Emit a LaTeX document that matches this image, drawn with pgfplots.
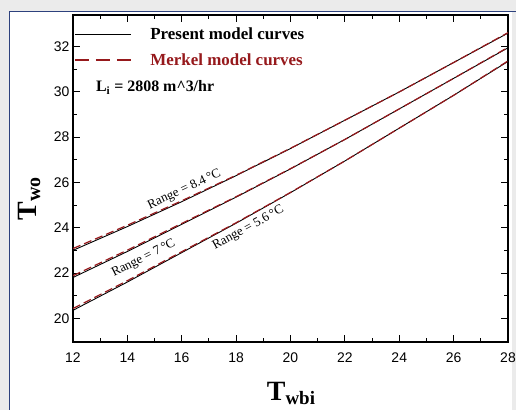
\documentclass[border=0pt]{standalone}
\usepackage{fontspec}
\setmainfont{Liberation Serif}
\newfontfamily\arial{Liberation Sans}
\usepackage{pgfplots}
\pgfplotsset{compat=1.18}
\definecolor{mred}{RGB}{150,25,28}
\definecolor{frameblue}{RGB}{45,65,125}

\pgfplotstableread{
x   pt     mt     pm     mm     pb     mb
12  23.00  23.08  21.80  21.88  20.35  20.43
14  24.05  24.11  22.95  23.01  21.60  21.66
16  25.15  25.19  24.15  24.19  22.90  22.94
18  26.30  26.32  25.35  25.37  24.20  24.22
20  27.50  27.51  26.60  26.61  25.55  25.56
22  28.75  28.75  27.90  27.90  26.95  26.95
24  30.00  30.00  29.25  29.25  28.40  28.40
26  31.30  31.30  30.60  30.60  29.85  29.85
28  32.60  32.62  31.95  31.97  31.35  31.37
}\datatable

\begin{document}
\begin{tikzpicture}
\useasboundingbox (0bp,0bp) rectangle (516bp,410bp);
\fill[black!8] (0bp,0bp) rectangle (516bp,410bp);
\fill[white] (9bp,0bp) rectangle (512bp,398bp);
\draw[frameblue, line width=1bp] (9bp,0bp) -- (9bp,398bp) -- (516bp,398bp);
\begin{axis}[
  at={(73bp,68bp)}, anchor=south west,
  scale only axis, width=435bp, height=327bp,
  xmin=12, xmax=28, ymin=18.95, ymax=33.4,
  xtick={12,14,...,28}, ytick={20,22,...,32},
  minor x tick num=1, minor y tick num=1,
  tick align=inside,
  major tick length=7bp, minor tick length=4bp,
  axis line style={line width=2.5bp},
  tick style={line width=0.9bp, black},
  ticklabel style={font=\arial\fontsize{14}{14}\selectfont},
  xticklabel style={yshift=-7bp},
  /pgf/number format/assume math mode=true,
  legend cell align=left,
  legend image code/.code={\draw[#1] (0bp,0bp) -- (56bp,0bp);},
  legend style={at={(0,1)}, anchor=north west, draw=none, fill=none,
    xshift=-2bp, yshift=-9bp, row sep=8bp,
    font=\bfseries\fontsize{17}{18}\selectfont,
    /tikz/every odd column/.append style={column sep=17bp}},
]
\addlegendimage{black, line width=0.9bp}
\addlegendentry{Present model curves}
\addlegendimage{mred, line width=1.2bp, dash pattern=on 14bp off 7bp}
\addlegendentry{\textcolor{mred}{Merkel model curves}}
\addplot[black, line width=0.9bp, forget plot] table[x=x, y=pt] {\datatable};
\addplot[mred, line width=1.2bp, dash pattern=on 8bp off 4bp, forget plot] table[x=x, y=mt] {\datatable};
\addplot[black, line width=0.9bp, forget plot] table[x=x, y=pm] {\datatable};
\addplot[mred, line width=1.2bp, dash pattern=on 8bp off 4bp, forget plot] table[x=x, y=mm] {\datatable};
\addplot[black, line width=0.9bp, forget plot] table[x=x, y=pb] {\datatable};
\addplot[mred, line width=1.2bp, dash pattern=on 8bp off 4bp, forget plot] table[x=x, y=mb] {\datatable};

\node[anchor=base west, font=\bfseries\fontsize{16}{16}\selectfont] at (axis cs:12.72,30.0) {L\textsubscript{i} = 2808 m\textasciicircum 3/hr};
\node[rotate=25, font=\fontsize{13}{13}\selectfont] at (axis cs:16.1,25.68) {Range = 8.4\,°C};
\node[rotate=27, font=\fontsize{13}{13}\selectfont] at (axis cs:14.6,22.65) {Range = 7\,°C};
\node[rotate=29, font=\fontsize{13}{13}\selectfont] at (axis cs:18.45,23.98) {Range = 5.6\,°C};
\end{axis}
\node[anchor=base] at (291bp,10bp) {\fontsize{28}{28}\selectfont\textbf{T}\raisebox{-4bp}{\fontsize{19}{19}\selectfont\textbf{wbi}}};
\node[anchor=base, rotate=90] at (36bp,211bp) {\fontsize{28}{28}\selectfont\textbf{T}\raisebox{-4bp}{\fontsize{20}{20}\selectfont\textbf{wo}}};
\end{tikzpicture}
\end{document}
